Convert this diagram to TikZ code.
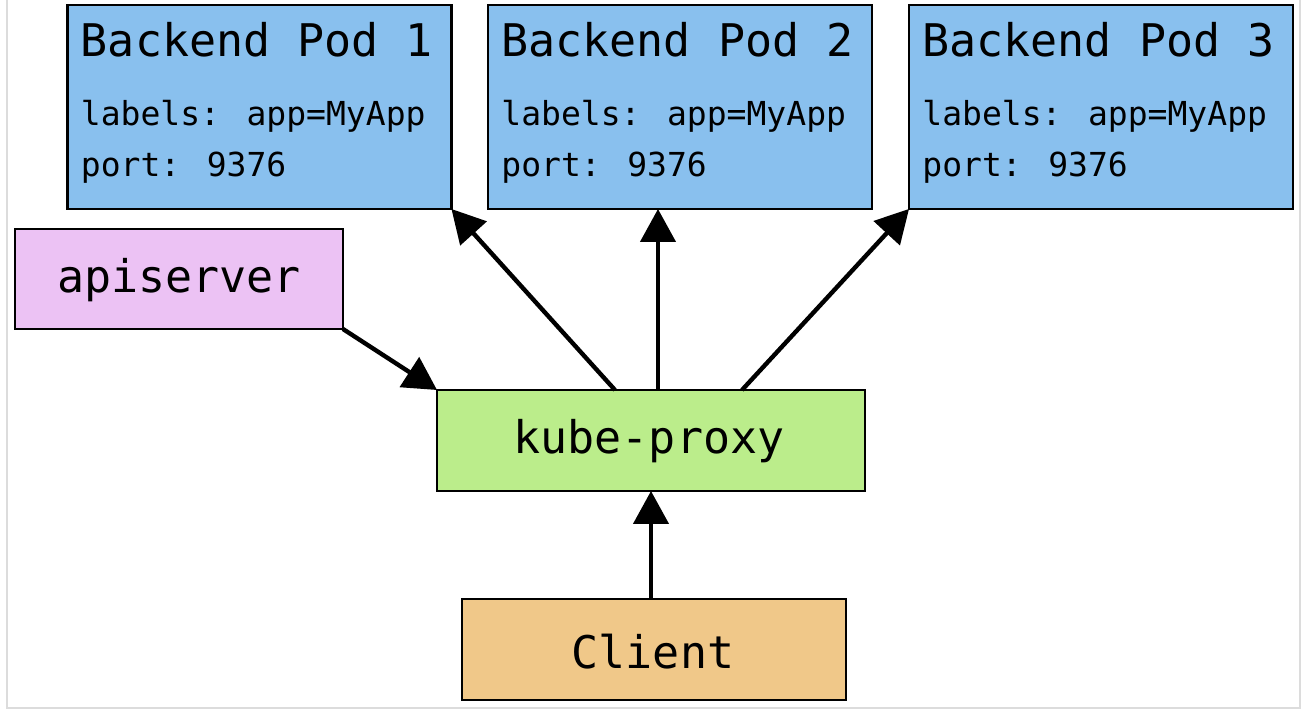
\documentclass[tikz,border=0pt]{standalone}
\usepackage{fontspec}
\newfontfamily\diagmono{DejaVu Sans Mono}
\usetikzlibrary{arrows.meta,calc}
\definecolor{podblue}{HTML}{89C0EE}
\definecolor{apipink}{HTML}{ECC2F4}
\definecolor{proxygreen}{HTML}{BBED8B}
\definecolor{clientorange}{HTML}{F0C889}
\definecolor{framegray}{HTML}{DCDCDC}
\begin{document}
\begin{tikzpicture}[x=0.02cm,y=-0.02cm,
  box/.style={draw=black, line width=1.5pt, rectangle, inner sep=0pt, outer sep=0pt},
  podbox/.style={box, fill=podblue, minimum width=7.68cm, minimum height=4.08cm},
  big/.style={font={\diagmono\fontsize{25.6}{30}\selectfont}, inner sep=0pt, anchor=base},
  small/.style={font={\diagmono\fontsize{18.8}{22}\selectfont}, inner sep=0pt, anchor=base west},
  link/.style={line width=2.5pt, -{Triangle[length=0.66cm,width=0.7cm]}}]

\useasboundingbox (0,0) rectangle (1303,710);
\fill[white] (0,0) rectangle (1303,710);
\draw[framegray, line width=1.2pt] (7,-10) rectangle (1300,708);

% backend pods
\node[podbox] (pod1) at (259.5,107) {};
\node[podbox] (pod2) at (680,107) {};
\node[podbox] (pod3) at (1101,107) {};
\foreach \p/\n in {pod1/1,pod2/2,pod3/3}{
  \node[big, anchor=base west] (\p title) at ($(\p.north west)+(13,51)$) {Backend Pod \n};
  \node[small] (\p labels) at ($(\p.north west)+(13,120)$) {labels: app=MyApp};
  \node[small] (\p port) at ($(\p.north west)+(13,171)$) {port: 9376};
}

% apiserver, kube-proxy, client
\node[box, fill=apipink, minimum width=6.56cm, minimum height=2cm] (api) at (179,279) {};
\node[big] (apitext) at ($(api.center)+(0,13)$) {apiserver};
\node[box, fill=proxygreen, minimum width=8.56cm, minimum height=2.02cm] (kp) at (651,440.5) {};
\node[big] (kptext) at ($(kp.center)+(-2,12.5)$) {kube-proxy};
\node[box, fill=clientorange, minimum width=7.68cm, minimum height=2.02cm] (client) at (654,649.5) {};
\node[big] (clienttext) at ($(client.center)+(-1,18.5)$) {Client};

% connectors
\draw[link] ($(kp.north)+(-36,0)$) -- (pod1.south east);
\draw[link] ($(kp.north)+(7,0)$) -- ($(pod2.south)+(-22,0)$);
\draw[link] ($(kp.north)+(91,0)$) -- (pod3.south west);
\draw[link] (api.south east) -- (kp.north west);
\draw[link] (kp.south |- client.north) -- (kp.south);
\end{tikzpicture}
\end{document}
